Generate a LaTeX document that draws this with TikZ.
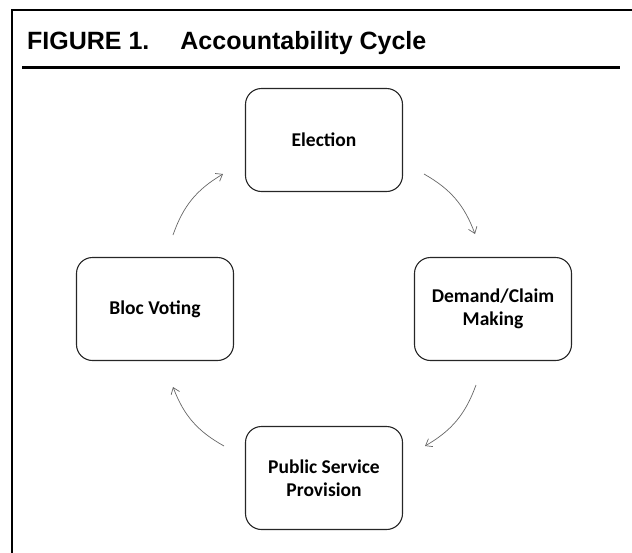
\documentclass[tikz,border=0pt]{standalone}
\usepackage{fontspec}
\setmainfont{Carlito}
\newfontfamily\headfont{Liberation Sans}
\usepackage{xcolor}
\usetikzlibrary{arrows.meta, positioning}

\tikzset{
  stage/.style={rectangle, draw=black!85, line width=1.1pt, rounded corners=16pt,
    minimum width=157pt, minimum height=103pt, align=center,
    font=\fontsize{19.5}{23.5}\selectfont\bfseries},
  cycarrow/.style={-{Straight Barb[length=6pt,width=9pt]}, draw=black!60, line width=0.7pt},
  frameline/.style={line width=2.3pt, line cap=rect}
}

\begin{document}
\begin{tikzpicture}[x=1pt, y=1pt]
  \useasboundingbox (0,0) rectangle (632,-552);
  \draw[frameline] (12,-552) -- (12,-10) -- (640,-10);
  \node[anchor=base west, inner sep=0pt, font=\headfont\fontsize{25}{30}\selectfont\bfseries] (Title) at (27,-49) {FIGURE 1.\hspace{31pt}Accountability Cycle};
  \draw[line width=2.3pt] (22,-67.5) -- (620,-67.5);

  \node[stage] (E) at (324,-140) {Election};
  \node[stage] (D) at (493,-309) {Demand/Claim\\Making};
  \node[stage] (P) at (324,-478) {Public Service\\Provision};
  \node[stage] (B) at (155,-309) {Bloc Voting};

  \coordinate (E1) at (424,-174);
  \coordinate (D0) at (475,-234);
  \coordinate (D1) at (476,-385);
  \coordinate (P0) at (425,-446);
  \coordinate (P1) at (224,-446);
  \coordinate (B0) at (173,-387);
  \coordinate (B1) at (173,-235);
  \coordinate (E0) at (223,-174);
  \draw[cycarrow] (E1) to[bend left=20] (D0);
  \draw[cycarrow] (D1) to[bend left=20] (P0);
  \draw[cycarrow] (P1) to[bend left=20] (B0);
  \draw[cycarrow] (B1) to[bend left=20] (E0);
\end{tikzpicture}
\end{document}
